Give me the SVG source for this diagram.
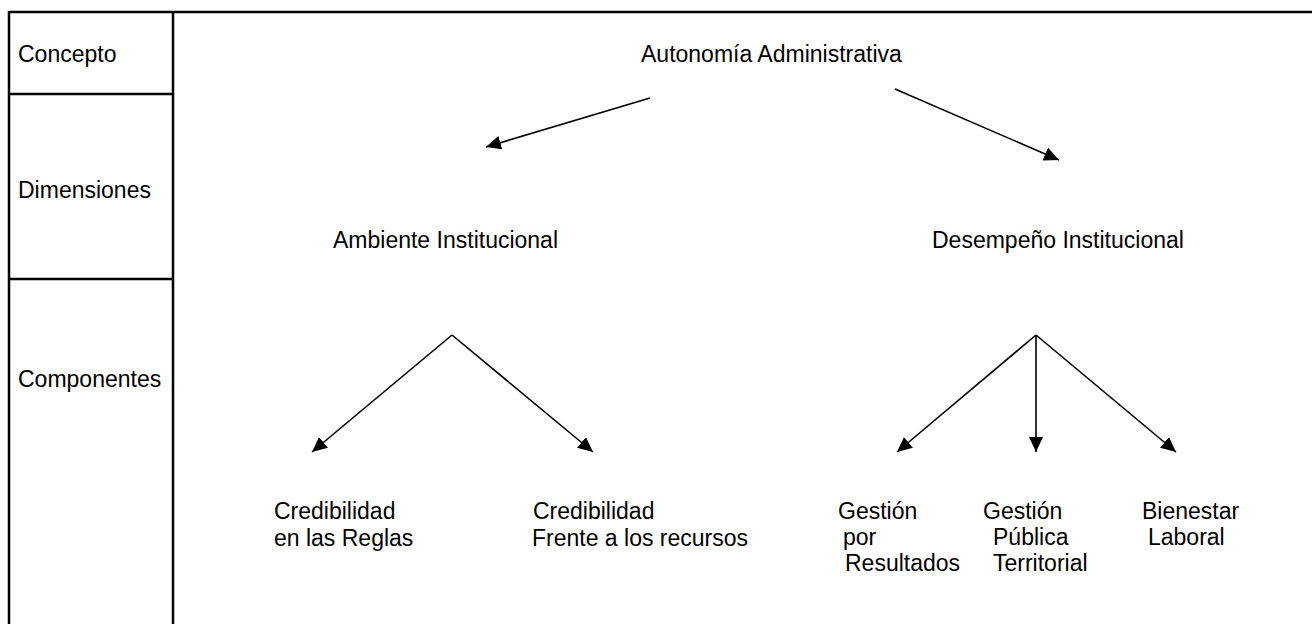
<svg xmlns="http://www.w3.org/2000/svg" width="1312" height="624" viewBox="0 0 1312 624">
<style>
text{font-family:"Liberation Sans",Arial,sans-serif;font-size:23px;fill:#000}
.frame{stroke:#000;stroke-width:2.5;fill:none}
.arr{stroke:#000;stroke-width:1.6;fill:none;marker-end:url(#ah)}
</style>
<defs>
<marker id="ah" markerUnits="userSpaceOnUse" markerWidth="16" markerHeight="14" refX="15" refY="7" orient="auto">
<path d="M0,0 L15,7 L0,14 z" fill="#000"/>
</marker>
</defs>
<rect width="1312" height="624" fill="#fff"/>
<g id="frame">
<line class="frame" x1="9" y1="12" x2="1312" y2="12"/>
<line class="frame" x1="9" y1="11" x2="9" y2="624"/>
<line class="frame" x1="173" y1="11" x2="173" y2="624"/>
<line class="frame" x1="9" y1="94" x2="173" y2="94"/>
<line class="frame" x1="9" y1="279" x2="173" y2="279"/>
</g>
<g id="row-labels">
<text x="18" y="62">Concepto</text>
<text x="18" y="198">Dimensiones</text>
<text x="18" y="387">Componentes</text>
</g>
<g id="node-autonomia"><text x="641" y="62">Autonomía Administrativa</text></g>
<g id="node-ambiente"><text x="333" y="248">Ambiente Institucional</text></g>
<g id="node-desempeno"><text x="932" y="248">Desempeño Institucional</text></g>
<g id="node-cred-reglas"><text x="274" y="519">Credibilidad</text><text x="274" y="546">en las Reglas</text></g>
<g id="node-cred-recursos"><text x="533" y="519">Credibilidad</text><text x="532" y="546">Frente a los recursos</text></g>
<g id="node-gestion-resultados"><text x="838" y="519">Gestión</text><text x="843" y="545">por</text><text x="845" y="571">Resultados</text></g>
<g id="node-gestion-publica"><text x="983" y="519">Gestión</text><text x="993" y="545">Pública</text><text x="993" y="571">Territorial</text></g>
<g id="node-bienestar"><text x="1142" y="519">Bienestar</text><text x="1148" y="545">Laboral</text></g>
<g id="connectors">
<line class="arr" x1="650" y1="98" x2="486" y2="147"/>
<line class="arr" x1="895" y1="89" x2="1059" y2="160"/>
<line class="arr" x1="452" y1="335" x2="312" y2="452"/>
<line class="arr" x1="452" y1="335" x2="593" y2="452"/>
<line class="arr" x1="1036" y1="335" x2="897" y2="452"/>
<line class="arr" x1="1036" y1="335" x2="1036" y2="452"/>
<line class="arr" x1="1036" y1="335" x2="1176" y2="452"/>
</g>
</svg>
